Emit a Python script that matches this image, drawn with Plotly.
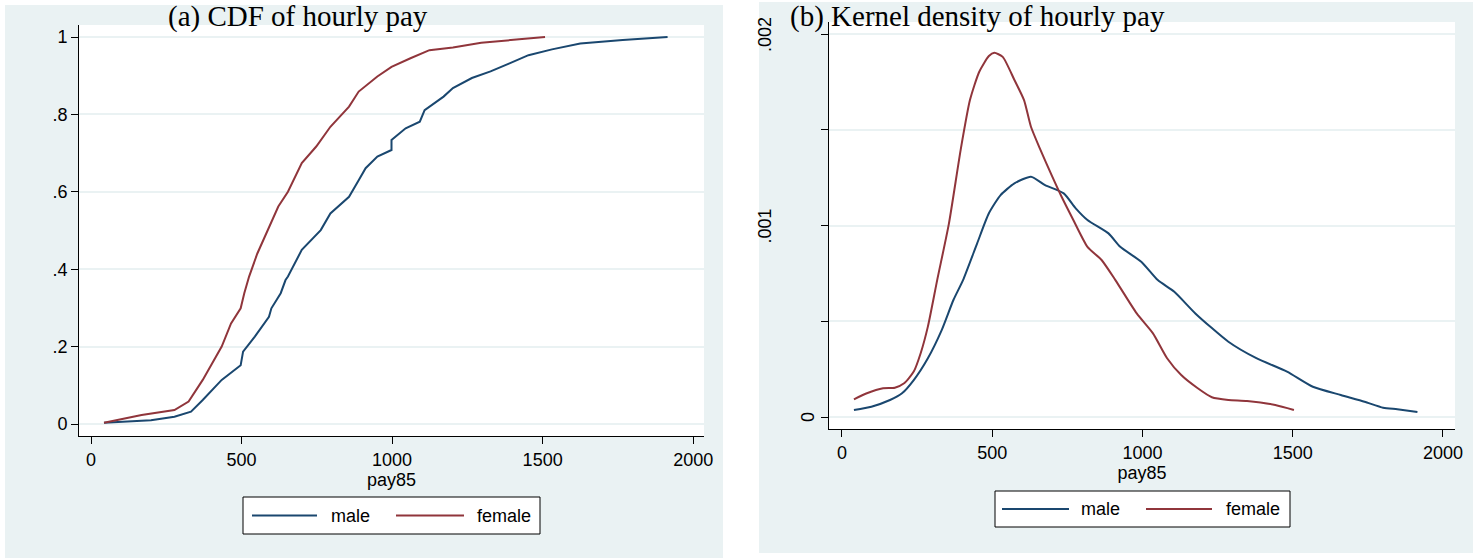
import plotly.graph_objects as go

# ---- data -------------------------------------------------------------
# (a) empirical CDF of hourly pay
male_cdf_pay = [43, 199, 277, 332, 371, 434, 497, 505, 544, 591, 599, 630, 646, 654,
                700, 763, 795, 857, 889, 912, 951, 998, 998, 1045, 1092, 1108, 1171,
                1202, 1265, 1327, 1390, 1453, 1531, 1625, 1766, 1915]
male_cdf = [0.003, 0.010, 0.019, 0.032, 0.062, 0.114, 0.152, 0.187, 0.226, 0.277,
            0.299, 0.338, 0.372, 0.381, 0.450, 0.501, 0.544, 0.587, 0.630, 0.661,
            0.691, 0.708, 0.734, 0.764, 0.781, 0.811, 0.846, 0.868, 0.894, 0.911,
            0.932, 0.953, 0.968, 0.983, 0.992, 1.0]

female_cdf_pay = [43, 168, 277, 324, 371, 403, 434, 465, 497, 509, 520, 525, 552, 591,
                  622, 654, 700, 748, 795, 857, 889, 951, 998, 1061, 1124, 1202, 1296,
                  1422, 1508]
female_cdf = [0.003, 0.023, 0.036, 0.058, 0.114, 0.157, 0.200, 0.260, 0.299, 0.338,
              0.372, 0.381, 0.440, 0.510, 0.562, 0.600, 0.674, 0.717, 0.768, 0.820,
              0.859, 0.898, 0.923, 0.945, 0.966, 0.973, 0.985, 0.994, 1.0]

# (b) kernel density of hourly pay
male_kd_pay = [40, 98, 160, 200, 239, 286, 332, 371, 403, 450, 489, 528, 574, 629, 676,
               738, 778, 817, 887, 926, 996, 1051, 1106, 1176, 1286, 1379, 1481, 1567,
               1660, 1739, 1801, 1848, 1915]
male_kd = [0.0000366, 0.0000538, 0.0000888, 0.000124, 0.000193, 0.000307, 0.000454,
           0.000611, 0.000715, 0.000907, 0.001064, 0.001159, 0.001220, 0.001255,
           0.001211, 0.001168, 0.001090, 0.001029, 0.000959, 0.000889, 0.000811,
           0.000715, 0.000654, 0.000541, 0.000393, 0.000307, 0.000237, 0.000158,
           0.000115, 0.0000799, 0.0000486, 0.0000402, 0.0000261]

female_kd_pay = [40, 83, 137, 176, 207, 239, 262, 286, 317, 356, 395, 426, 457, 489, 507,
                 535, 574, 606, 629, 661, 700, 731, 770, 817, 864, 910, 981, 1035, 1082,
                 1129, 1184, 1231, 1286, 1348, 1442, 1504]
female_kd = [0.0000924, 0.000124, 0.000150, 0.000153, 0.000176, 0.000237, 0.000333,
             0.000472, 0.000715, 0.001010, 0.001394, 0.001655, 0.001803, 0.001885,
             0.001902, 0.001881, 0.001760, 0.001655, 0.001516, 0.001394, 0.001255,
             0.001150, 0.001029, 0.000889, 0.000820, 0.000715, 0.000541, 0.000437,
             0.000307, 0.000219, 0.000150, 0.000103, 0.0000888, 0.0000836, 0.0000627,
             0.0000366]

x_ticks = [0, 500, 1000, 1500, 2000]
cdf_ticks = [0, 0.2, 0.4, 0.6, 0.8, 1]
cdf_tick_text = ["0", ".2", ".4", ".6", ".8", "1"]
kd_ticks = [0, 0.0005, 0.001, 0.0015, 0.002]
kd_labels = [0, 0.001, 0.002]
kd_label_text = ["0", ".001", ".002"]

series_names = ["male", "female"]
panel_titles = ["(a) CDF of hourly pay", "(b) Kernel density of hourly pay"]
x_title = "pay85"

# ---- style ------------------------------------------------------------
W, H = 1478, 560
NAVY = "#1a476f"
MAROON = "#90353b"
PANEL = "#eaf2f3"
SANS = "Liberation Sans, Arial, sans-serif"
SERIF = "Liberation Serif, Times New Roman, serif"


def px_x(p):
    return p / W


def px_y(p):
    return 1 - p / H


fig = go.Figure()

fig.add_trace(go.Scatter(x=male_cdf_pay, y=male_cdf, mode="lines", name=series_names[0],
                         line=dict(color=NAVY, width=2), xaxis="x", yaxis="y"))
fig.add_trace(go.Scatter(x=female_cdf_pay, y=female_cdf, mode="lines", name=series_names[1],
                         line=dict(color=MAROON, width=2), xaxis="x", yaxis="y"))
fig.add_trace(go.Scatter(x=male_kd_pay, y=male_kd, mode="lines", name=series_names[0],
                         line=dict(color=NAVY, width=2, shape="spline", smoothing=0.6),
                         xaxis="x2", yaxis="y2"))
fig.add_trace(go.Scatter(x=female_kd_pay, y=female_kd, mode="lines", name=series_names[1],
                         line=dict(color=MAROON, width=2, shape="spline", smoothing=0.6),
                         xaxis="x2", yaxis="y2"))

axis_common = dict(
    showline=True, linecolor="black", linewidth=1, mirror=False,
    ticks="outside", ticklen=7, tickwidth=1, tickcolor="black",
    tickfont=dict(family=SANS, size=18, color="black"),
    zeroline=False, automargin=False,
)
x_title_cfg = dict(text=x_title, font=dict(family=SANS, size=18, color="black"), standoff=2)

fig.update_layout(
    width=W, height=H,
    margin=dict(l=0, r=0, t=0, b=0, autoexpand=False),
    paper_bgcolor="white",
    plot_bgcolor="white",
    showlegend=False,
    xaxis=dict(domain=[px_x(79), px_x(704)], range=[-40, 2036], anchor="y",
               tickvals=x_ticks, showgrid=False, title=x_title_cfg, **axis_common),
    yaxis=dict(domain=[px_y(436), px_y(25)], range=[-0.031, 1.031], anchor="x",
               tickvals=cdf_ticks, ticktext=cdf_tick_text,
               showgrid=True, gridcolor=PANEL, gridwidth=2, **axis_common),
    xaxis2=dict(domain=[px_x(829), px_x(1455)], range=[-43, 2040], anchor="y2",
                tickvals=x_ticks, showgrid=False, title=x_title_cfg, **axis_common),
    # labels of this axis are written separately (rotated) below
    yaxis2=dict(domain=[px_y(429), px_y(22)], range=[-0.0000627, 0.002063], anchor="x2",
                tickvals=kd_ticks, ticktext=[""] * len(kd_ticks),
                showgrid=True, gridcolor=PANEL, gridwidth=2, **axis_common),
)

shapes = [
    # light panel backgrounds behind each graph
    dict(type="rect", xref="paper", yref="paper", layer="below",
         x0=px_x(5), x1=px_x(723), y0=px_y(558), y1=px_y(5),
         fillcolor=PANEL, line=dict(width=0)),
    dict(type="rect", xref="paper", yref="paper", layer="below",
         x0=px_x(759), x1=px_x(1473), y0=px_y(553), y1=px_y(2),
         fillcolor=PANEL, line=dict(width=0)),
    # white plotting regions inside the axes
    dict(type="rect", xref="x domain", yref="y domain", layer="below",
         x0=0, x1=1, y0=0, y1=1, fillcolor="white", line=dict(width=0)),
    dict(type="rect", xref="x2 domain", yref="y2 domain", layer="below",
         x0=0, x1=1, y0=0, y1=1, fillcolor="white", line=dict(width=0)),
]
annotations = []

# rotated value labels of the density axis
for val, txt, cx in zip(kd_labels, kd_label_text, [808, 765, 765]):
    annotations.append(dict(text=txt, xref="paper", yref="y2", x=px_x(cx), y=val,
                            xanchor="center", yanchor="middle", textangle=-90,
                            showarrow=False,
                            font=dict(family=SANS, size=18, color="black")))

# title of each panel
for title, cx in zip(panel_titles, [298, 977]):
    annotations.append(dict(text=title, xref="paper", yref="paper", x=px_x(cx), y=px_y(16),
                            xanchor="center", yanchor="middle", showarrow=False,
                            font=dict(family=SERIF, size=29, color="black")))

# legend boxes drawn below each panel
legends = [
    dict(box=(243, 540, 497, 534), lines=[(252, 317), (396, 464)], text=[329, 475]),
    dict(box=(995, 1290, 491, 527), lines=[(1002, 1069), (1146, 1212)], text=[1079, 1224]),
]
for lg in legends:
    bx0, bx1, by0, by1 = lg["box"]
    cy = (by0 + by1) / 2
    shapes.append(dict(type="rect", xref="paper", yref="paper",
                       x0=px_x(bx0), x1=px_x(bx1), y0=px_y(by1), y1=px_y(by0),
                       fillcolor="white", line=dict(color="black", width=1)))
    for (lx0, lx1), color, name, tx in zip(lg["lines"], [NAVY, MAROON], series_names, lg["text"]):
        shapes.append(dict(type="line", xref="paper", yref="paper",
                           x0=px_x(lx0), x1=px_x(lx1), y0=px_y(cy), y1=px_y(cy),
                           line=dict(color=color, width=2)))
        annotations.append(dict(text=name, xref="paper", yref="paper", x=px_x(tx), y=px_y(cy),
                                xanchor="left", yanchor="middle", showarrow=False,
                                font=dict(family=SANS, size=18, color="black")))

fig.update_layout(shapes=shapes, annotations=annotations)

fig.write_html("out.html")
